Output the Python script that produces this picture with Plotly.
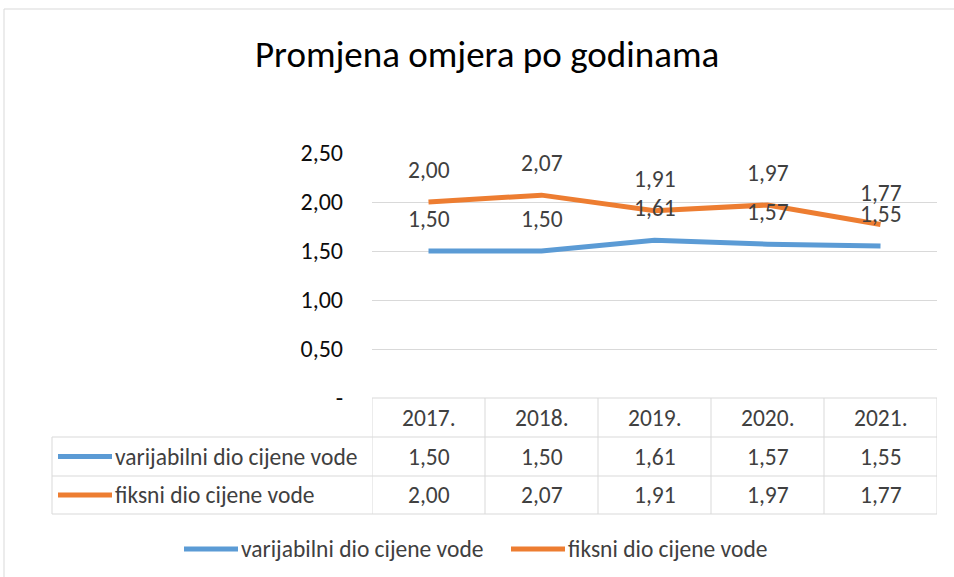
import plotly.graph_objects as go

years = ["2017.", "2018.", "2019.", "2020.", "2021."]
variable_part = [1.50, 1.50, 1.61, 1.57, 1.55]
fixed_part = [2.00, 2.07, 1.91, 1.97, 1.77]
series_names = ["varijabilni dio cijene vode", "fiksni dio cijene vode"]
y_tick_vals = [0, 0.5, 1.0, 1.5, 2.0, 2.5]
y_tick_text = ["-", "0,50", "1,00", "1,50", "2,00", "2,50"]
title_text = "Promjena omjera po godinama"

W, H = 954, 577
BLUE = "#5B9BD5"
ORANGE = "#ED7D31"
GRID = "#D9D9D9"
TXT = "#404040"
FONT = "Carlito, Calibri, Lato, sans-serif"
FS = 23.5


def px(x):
    return x / W


def py(y):
    return 1 - y / H


def fmt(v):
    return f"{v:.2f}".replace(".", ",")


xs = list(range(len(years)))
fig = go.Figure()
series = [(variable_part, BLUE), (fixed_part, ORANGE)]
for (vals, col), name in zip(series, series_names):
    fig.add_trace(go.Scatter(x=xs, y=vals, mode="lines", name=name,
                             line=dict(color=col, width=5), hoverinfo="skip"))

annotations = []
shapes = []

# Data labels above points
for vals, col in series:
    for i, v in enumerate(vals):
        annotations.append(dict(x=i, y=v, xref="x", yref="y", text=fmt(v), showarrow=False,
                                yshift=32, font=dict(family=FONT, size=FS, color=TXT)))

# Title
annotations.append(dict(x=px(487), y=py(55), xref="paper", yref="paper", text=title_text,
                        showarrow=False, xanchor="center", yanchor="middle",
                        font=dict(family=FONT, size=37, color="#000000")))

# Table
row_y = [417.5, 456.5, 495]
line_kw = dict(color=GRID, width=1)
shapes.append(dict(type="line", xref="x", yref="paper", x0=-0.5, x1=len(years) - 0.5,
                   y0=py(398), y1=py(398), line=line_kw))
for yy in [437, 476, 514]:
    shapes.append(dict(type="line", xref="paper", yref="paper", x0=px(52), x1=px(937),
                       y0=py(yy), y1=py(yy), line=line_kw))
for i in range(len(years) + 1):
    shapes.append(dict(type="line", xref="x", yref="paper", x0=i - 0.5, x1=i - 0.5,
                       y0=py(398), y1=py(514), line=line_kw))
shapes.append(dict(type="line", xref="paper", yref="paper", x0=px(52), x1=px(52),
                   y0=py(437), y1=py(514), line=line_kw))

for i, yr in enumerate(years):
    annotations.append(dict(x=i, y=py(row_y[0]), xref="x", yref="paper", text=yr, showarrow=False,
                            yanchor="middle", font=dict(family=FONT, size=FS, color=TXT)))
for r, ((vals, col), name) in enumerate(zip(series, series_names)):
    yy = row_y[r + 1]
    for i, v in enumerate(vals):
        annotations.append(dict(x=i, y=py(yy), xref="x", yref="paper", text=fmt(v), showarrow=False,
                                yanchor="middle", font=dict(family=FONT, size=FS, color=TXT)))
    shapes.append(dict(type="line", xref="paper", yref="paper", x0=px(58), x1=px(112),
                       y0=py(yy), y1=py(yy), line=dict(color=col, width=5)))
    annotations.append(dict(x=px(113), y=py(yy), xref="paper", yref="paper", text=name,
                            showarrow=False, xanchor="left", yanchor="middle",
                            font=dict(family=FONT, size=FS, color=TXT)))

# Bottom legend
leg = [(184, 238, 239), (511, 565, 566)]
for ((vals, col), name), (a, b, t) in zip(zip(series, series_names), leg):
    shapes.append(dict(type="line", xref="paper", yref="paper", x0=px(a), x1=px(b),
                       y0=py(549), y1=py(549), line=dict(color=col, width=5)))
    annotations.append(dict(x=px(t), y=py(549), xref="paper", yref="paper", text=name,
                            showarrow=False, xanchor="left", yanchor="middle",
                            font=dict(family=FONT, size=FS, color=TXT)))

# Chart border
shapes.append(dict(type="line", xref="paper", yref="paper", x0=px(4), x1=px(954),
                   y0=py(9), y1=py(9), line=line_kw))
shapes.append(dict(type="line", xref="paper", yref="paper", x0=px(4), x1=px(4),
                   y0=py(9), y1=py(577), line=line_kw))

fig.update_layout(
    width=W, height=H, margin=dict(l=0, r=0, t=0, b=0, pad=0, autoexpand=False),
    paper_bgcolor="white", plot_bgcolor="white", showlegend=False,
    xaxis=dict(domain=[px(372), px(937)], range=[-0.5, len(years) - 0.5], automargin=False,
               showgrid=False, showticklabels=False, zeroline=False, fixedrange=True),
    yaxis=dict(domain=[py(398), py(153)], range=[0, 2.5], tickvals=y_tick_vals, automargin=False,
               ticktext=y_tick_text, showgrid=True, gridcolor=GRID, gridwidth=1,
               zeroline=False, ticklabelstandoff=28,
               tickfont=dict(family=FONT, size=24, color="#0d0d0d"), fixedrange=True),
    shapes=shapes, annotations=annotations,
)

fig.write_html("out.html", config={"displayModeBar": False},
               post_script="document.body.style.margin='0';document.body.style.overflow='hidden';")
